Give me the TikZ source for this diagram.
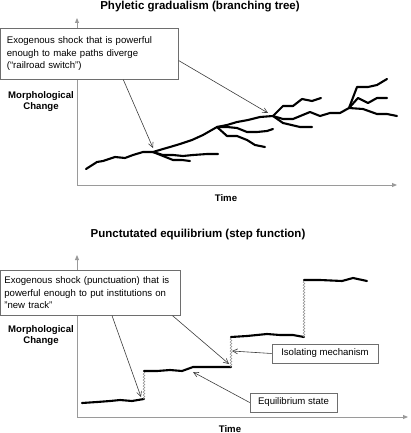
\documentclass[tikz,border=0pt]{standalone}
\usepackage{fontspec}
\setmainfont{Liberation Sans}
\usetikzlibrary{arrows.meta, positioning, calc, decorations.pathmorphing}
\definecolor{axisgray}{HTML}{9A9A9A}
\definecolor{framegray}{HTML}{6E6E6E}
\definecolor{arrowgray}{HTML}{3C3C3C}
\definecolor{jumpgray}{HTML}{8A8A8A}

\begin{document}
\begin{tikzpicture}[
  x=1pt, y=-1pt,
  title/.style={font=\fontsize{11.5}{13}\selectfont\bfseries},
  axislabel/.style={font=\fontsize{9.6}{11}\selectfont\bfseries, align=center},
  note/.style={draw=framegray, line width=0.7pt, fill=white,
               font=\fontsize{9.6}{12.5}\selectfont, align=left},
  tag/.style={draw=framegray, line width=0.7pt, fill=white,
              font=\fontsize{9.6}{11}\selectfont,
              minimum height=19pt, inner xsep=0pt},
  track/.style={line width=2.1pt, line join=round, line cap=round},
  pointer/.style={draw=arrowgray, line width=0.6pt,
                  -{Straight Barb[length=5pt, width=5pt]}},
  axis/.style={draw=axisgray, line width=0.9pt,
               -{Triangle[length=5pt, width=4pt]}},
  jump/.style={draw=jumpgray, line width=0.5pt, decorate,
               decoration={snake, amplitude=0.9pt, segment length=3pt}}
]
  \useasboundingbox (0,0) rectangle (410,433);

  % upper panel: branching tree
  \node[title, anchor=base] (titleA) at (200,9.5) {Phyletic gradualism (branching tree)};
  \coordinate (originA) at (77,185);
  \coordinate (yendA) at (77,18);
  \coordinate (xendA) at (397,185);
  \draw[axis] (originA) -- (yendA);
  \draw[axis] (originA) -- (xendA);
  \node[axislabel] (morphA) at (41,102) {Morphological\\Change};
  \node[axislabel, anchor=base] (timeA) at (226,201) {Time};

  \coordinate (forkA) at (153,152);
  \coordinate (forkB) at (217,127);
  \coordinate (forkC) at (273,116);
  \coordinate (forkD) at (349,108);

  \draw[track] (86,169) -- (97,162) -- (103,161) -- (115,157) -- (125,158)
    -- (133,155) -- (143,152) -- (forkA) -- (163,149) -- (170,147) -- (180,144)
    -- (192,140) -- (203,135) -- (forkB) -- (227,125) -- (237,122) -- (248,120)
    -- (260,117) -- (forkC);
  \draw[track] (forkA) -- (163,155) -- (173,155) -- (183,156) -- (193,155) -- (207,154) -- (218,154);
  \draw[track] (forkA) -- (163,156) -- (173,160) -- (182,160) -- (190,161);
  \draw[track] (forkB) -- (227,127) -- (237,128) -- (247,132) -- (257,132) -- (267,131) -- (273,129);
  \draw[track] (forkB) -- (227,136) -- (237,136) -- (247,140) -- (255,145) -- (265,147);
  \draw[track] (forkC) -- (283,106) -- (293,106) -- (302,99) -- (312,101) -- (321,98);
  \draw[track] (forkC) -- (283,119) -- (293,119) -- (310,112) -- (320,116) -- (330,113)
    -- (340,113) -- (forkD);
  \draw[track] (forkC) -- (283,123) -- (300,127) -- (312,127);
  \draw[track] (forkD) -- (357,87) -- (368,87) -- (377,85) -- (387,79);
  \draw[track] (forkD) -- (358,98) -- (368,103) -- (377,98) -- (387,98);
  \draw[track] (forkD) -- (363,109) -- (377,114) -- (387,114) -- (397,116);

  \node[note, anchor=north west, text width=165pt, inner xsep=6.5pt,
        minimum height=51pt] (shockA) at (0,28)
    {Exogenous shock that is powerful\\enough to make paths diverge\\(“railroad switch”)};
  \draw[pointer] ($(shockA.south west)!0.69!(shockA.south east)$) -- ($(forkA)+(0,-4)$);
  \draw[pointer] ($(shockA.north east)!0.63!(shockA.south east)$) -- ($(forkC)+(-5,-3)$);

  % lower panel: step function
  \node[title, anchor=base] (titleB) at (198,237) {Punctutated equilibrium (step function)};
  \coordinate (originB) at (77,417);
  \coordinate (yendB) at (77,255);
  \coordinate (xendB) at (408,417);
  \draw[axis] (originB) -- (yendB);
  \draw[axis] (originB) -- (xendB);
  \node[axislabel] (morphB) at (41,336) {Morphological\\Change};
  \node[axislabel, anchor=base] (timeB) at (230,432) {Time};

  \coordinate (lowEnd) at (144,399);
  \coordinate (stepB) at (144,371);
  \coordinate (calm) at (193,367);
  \coordinate (midEnd) at (231,367);
  \coordinate (stepC) at (231,337);
  \coordinate (highEnd) at (304,337);
  \coordinate (stepD) at (304,280);

  \draw[track] (82,403) -- (97,402) -- (110,401) -- (120,400) -- (132,401) -- (lowEnd);
  \draw[jump] (lowEnd) -- (stepB);
  \draw[track] (stepB) -- (157,371) -- (170,370) -- (182,371) -- (calm) -- (207,367) -- (midEnd);
  \draw[jump] (midEnd) -- (stepC);
  \draw[track] (stepC) -- (247,336) -- (267,334) -- (280,335) -- (293,335) -- (highEnd);
  \draw[jump] (highEnd) -- (stepD);
  \draw[track] (stepD) -- (320,280) -- (342,281) -- (353,278) -- (367,281);

  \node[note, anchor=north west, text width=172pt, inner xsep=4pt,
        minimum height=45pt] (shockB) at (0,270)
    {Exogenous shock (punctuation) that is\\powerful enough to put institutions on\\"new track"};
  \draw[pointer] ($(shockB.south west)!0.62!(shockB.south east)$) -- ($(lowEnd)+(-3,-2)$);
  \draw[pointer] ($(shockB.south west)!0.955!(shockB.south east)$) -- ($(midEnd)+(-2,-3)$);

  \node[tag, minimum width=106pt] (isolate) at (325,353.5) {Isolating mechanism};
  \node[tag, minimum width=87pt] (equil) at (293.5,402.5) {Equilibrium state};
  \draw[pointer] (isolate.west) -- ($(stepC)+(1,14)$);
  \draw[pointer] (equil.west) -- ($(calm)+(0,5)$);
\end{tikzpicture}
\end{document}
